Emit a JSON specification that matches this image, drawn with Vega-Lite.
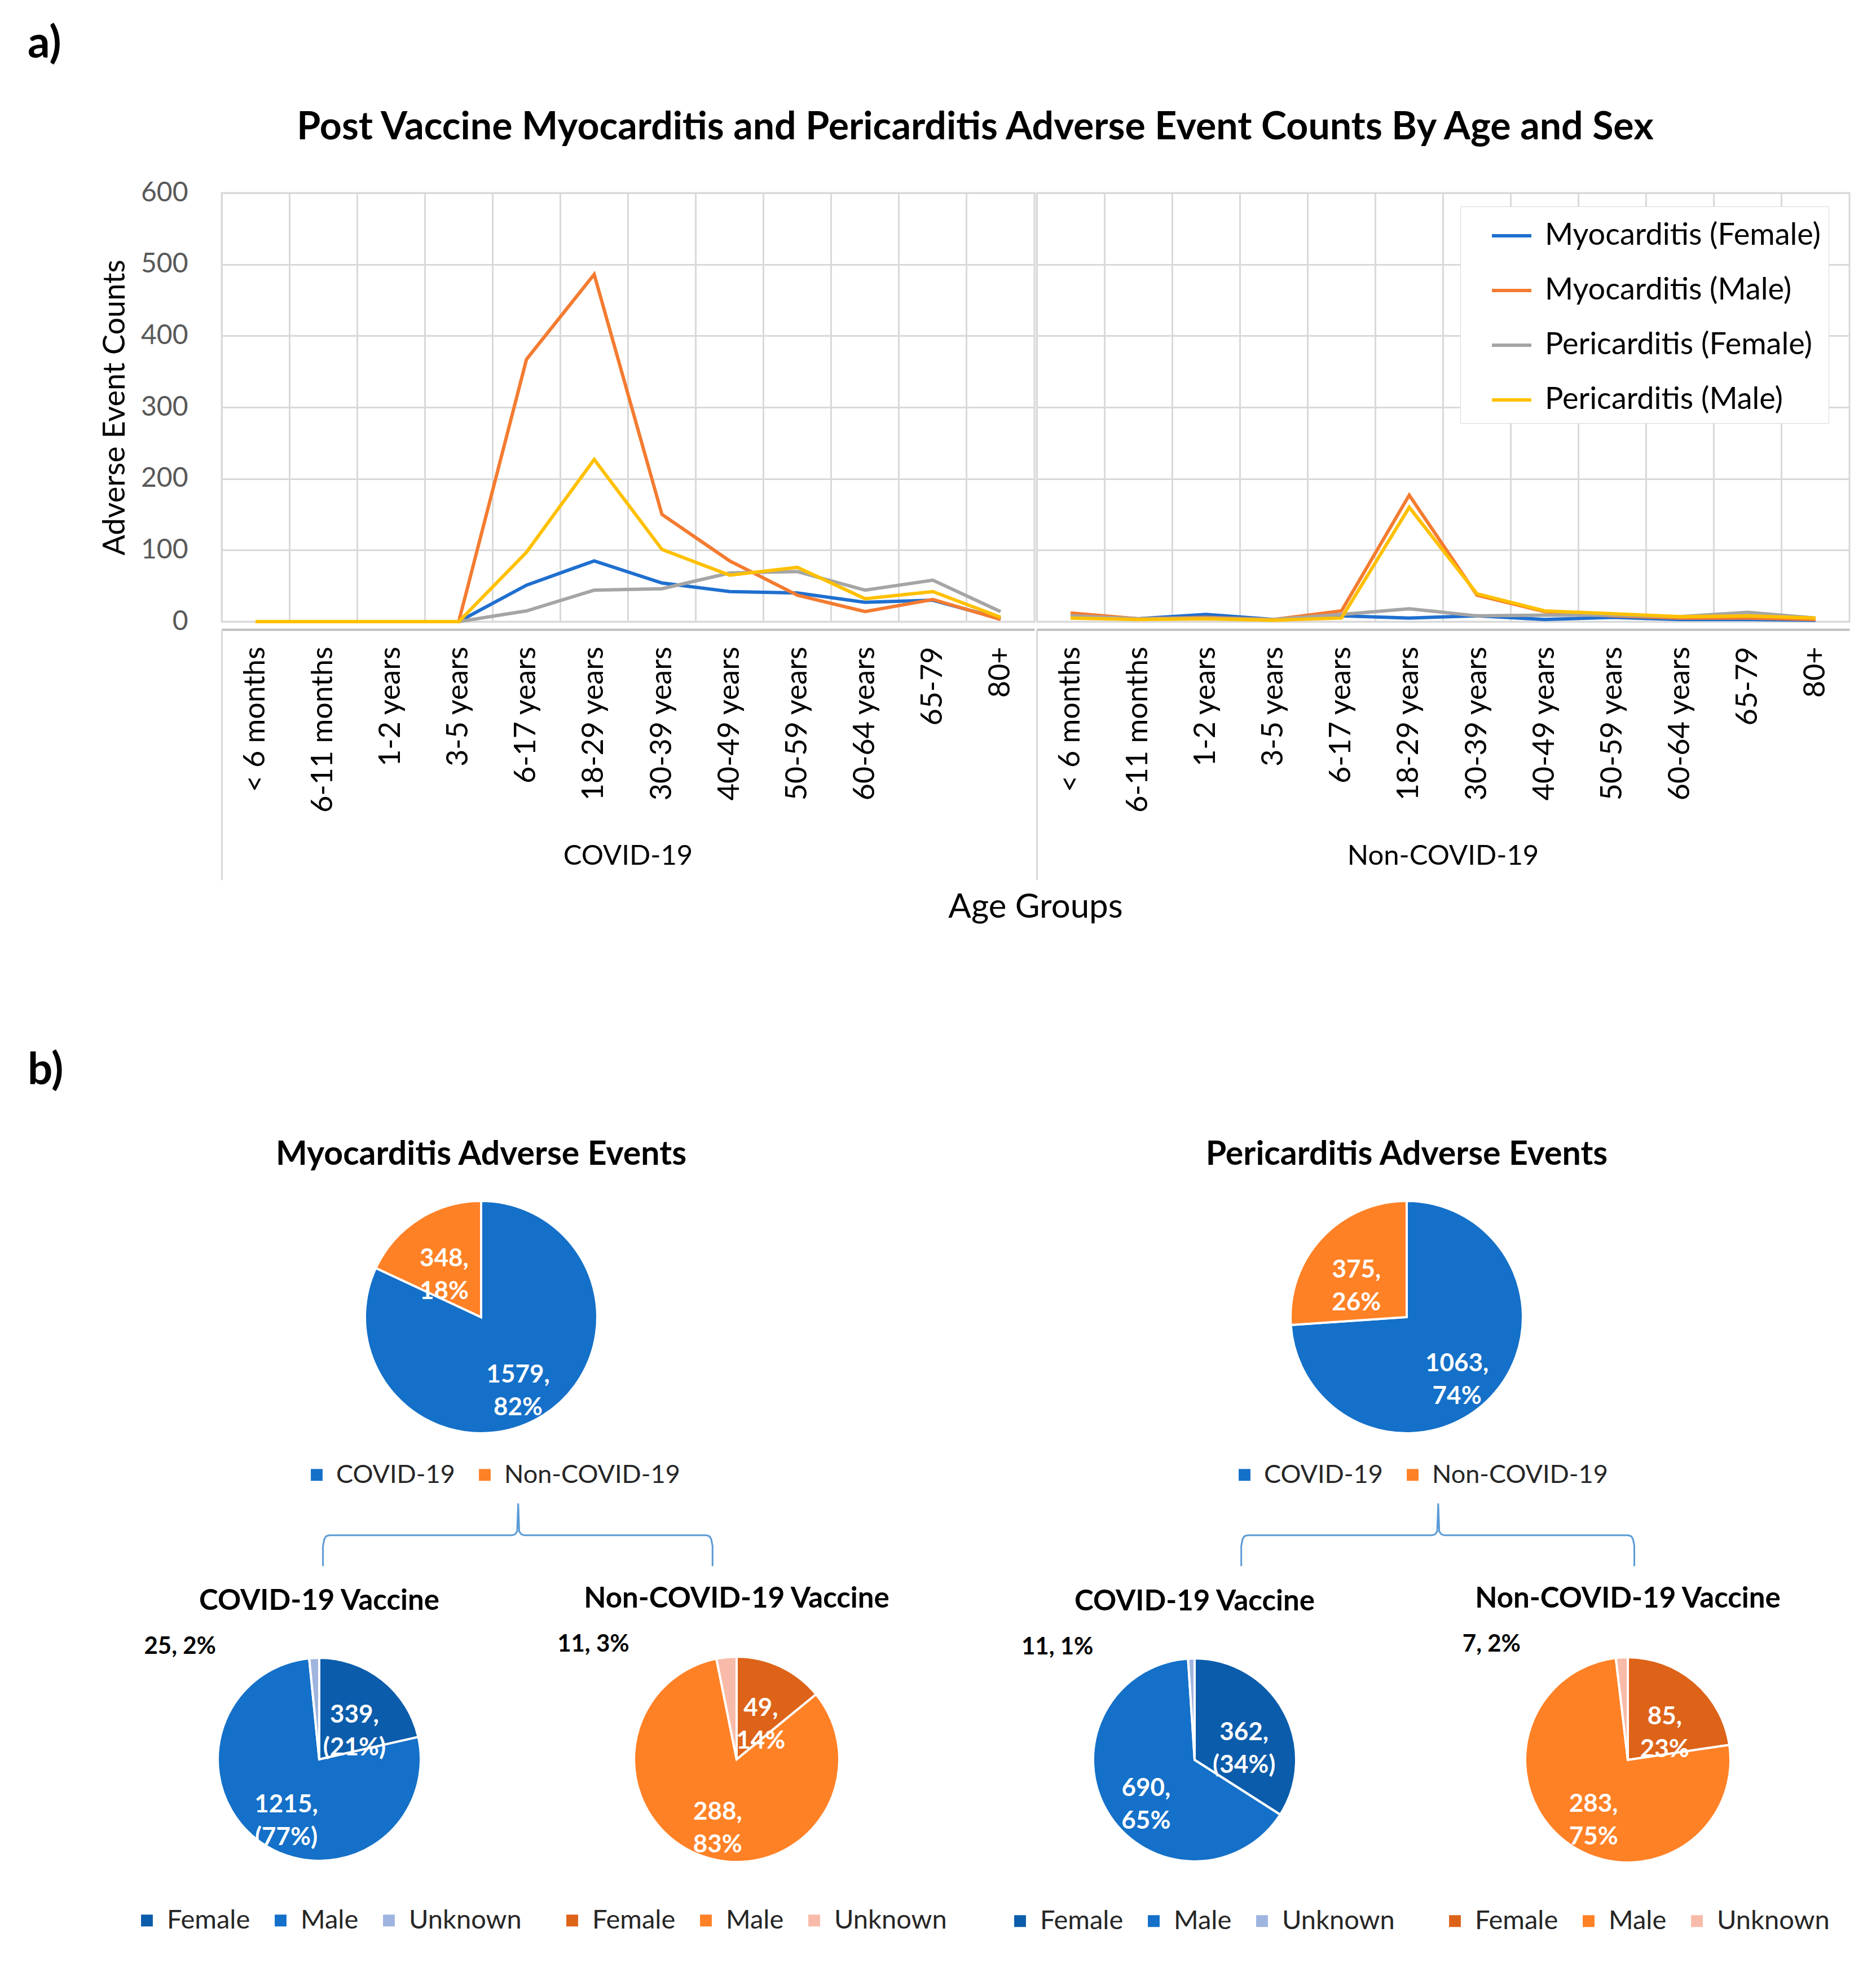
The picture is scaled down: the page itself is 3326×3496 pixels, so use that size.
{
"$schema": "https://vega.github.io/schema/vega-lite/v6.json",
"padding": {"left": 49, "top": 40, "right": 10, "bottom": 10},
"background": "white",
"config": {"font": "Lato", "view": {"stroke": null}, "title": {"color": "black"}},
"datasets": {
"lines": [
{"vaccine":"COVID-19","age":"< 6 months","series":"Myocarditis (Female)","count":0},
{"vaccine":"COVID-19","age":"6-11 months","series":"Myocarditis (Female)","count":0},
{"vaccine":"COVID-19","age":"1-2 years","series":"Myocarditis (Female)","count":0},
{"vaccine":"COVID-19","age":"3-5 years","series":"Myocarditis (Female)","count":0},
{"vaccine":"COVID-19","age":"6-17 years","series":"Myocarditis (Female)","count":51},
{"vaccine":"COVID-19","age":"18-29 years","series":"Myocarditis (Female)","count":85},
{"vaccine":"COVID-19","age":"30-39 years","series":"Myocarditis (Female)","count":54},
{"vaccine":"COVID-19","age":"40-49 years","series":"Myocarditis (Female)","count":42},
{"vaccine":"COVID-19","age":"50-59 years","series":"Myocarditis (Female)","count":40},
{"vaccine":"COVID-19","age":"60-64 years","series":"Myocarditis (Female)","count":27},
{"vaccine":"COVID-19","age":"65-79","series":"Myocarditis (Female)","count":30},
{"vaccine":"COVID-19","age":"80+","series":"Myocarditis (Female)","count":4},
{"vaccine":"COVID-19","age":"< 6 months","series":"Myocarditis (Male)","count":0},
{"vaccine":"COVID-19","age":"6-11 months","series":"Myocarditis (Male)","count":0},
{"vaccine":"COVID-19","age":"1-2 years","series":"Myocarditis (Male)","count":0},
{"vaccine":"COVID-19","age":"3-5 years","series":"Myocarditis (Male)","count":0},
{"vaccine":"COVID-19","age":"6-17 years","series":"Myocarditis (Male)","count":367},
{"vaccine":"COVID-19","age":"18-29 years","series":"Myocarditis (Male)","count":486},
{"vaccine":"COVID-19","age":"30-39 years","series":"Myocarditis (Male)","count":150},
{"vaccine":"COVID-19","age":"40-49 years","series":"Myocarditis (Male)","count":85},
{"vaccine":"COVID-19","age":"50-59 years","series":"Myocarditis (Male)","count":37},
{"vaccine":"COVID-19","age":"60-64 years","series":"Myocarditis (Male)","count":14},
{"vaccine":"COVID-19","age":"65-79","series":"Myocarditis (Male)","count":31},
{"vaccine":"COVID-19","age":"80+","series":"Myocarditis (Male)","count":3},
{"vaccine":"COVID-19","age":"< 6 months","series":"Pericarditis (Female)","count":0},
{"vaccine":"COVID-19","age":"6-11 months","series":"Pericarditis (Female)","count":0},
{"vaccine":"COVID-19","age":"1-2 years","series":"Pericarditis (Female)","count":0},
{"vaccine":"COVID-19","age":"3-5 years","series":"Pericarditis (Female)","count":0},
{"vaccine":"COVID-19","age":"6-17 years","series":"Pericarditis (Female)","count":15},
{"vaccine":"COVID-19","age":"18-29 years","series":"Pericarditis (Female)","count":44},
{"vaccine":"COVID-19","age":"30-39 years","series":"Pericarditis (Female)","count":46},
{"vaccine":"COVID-19","age":"40-49 years","series":"Pericarditis (Female)","count":68},
{"vaccine":"COVID-19","age":"50-59 years","series":"Pericarditis (Female)","count":70},
{"vaccine":"COVID-19","age":"60-64 years","series":"Pericarditis (Female)","count":44},
{"vaccine":"COVID-19","age":"65-79","series":"Pericarditis (Female)","count":58},
{"vaccine":"COVID-19","age":"80+","series":"Pericarditis (Female)","count":14},
{"vaccine":"COVID-19","age":"< 6 months","series":"Pericarditis (Male)","count":0},
{"vaccine":"COVID-19","age":"6-11 months","series":"Pericarditis (Male)","count":0},
{"vaccine":"COVID-19","age":"1-2 years","series":"Pericarditis (Male)","count":0},
{"vaccine":"COVID-19","age":"3-5 years","series":"Pericarditis (Male)","count":0},
{"vaccine":"COVID-19","age":"6-17 years","series":"Pericarditis (Male)","count":97},
{"vaccine":"COVID-19","age":"18-29 years","series":"Pericarditis (Male)","count":227},
{"vaccine":"COVID-19","age":"30-39 years","series":"Pericarditis (Male)","count":101},
{"vaccine":"COVID-19","age":"40-49 years","series":"Pericarditis (Male)","count":65},
{"vaccine":"COVID-19","age":"50-59 years","series":"Pericarditis (Male)","count":76},
{"vaccine":"COVID-19","age":"60-64 years","series":"Pericarditis (Male)","count":32},
{"vaccine":"COVID-19","age":"65-79","series":"Pericarditis (Male)","count":42},
{"vaccine":"COVID-19","age":"80+","series":"Pericarditis (Male)","count":6},
{"vaccine":"Non-COVID-19","age":"< 6 months","series":"Myocarditis (Female)","count":8},
{"vaccine":"Non-COVID-19","age":"6-11 months","series":"Myocarditis (Female)","count":4},
{"vaccine":"Non-COVID-19","age":"1-2 years","series":"Myocarditis (Female)","count":10},
{"vaccine":"Non-COVID-19","age":"3-5 years","series":"Myocarditis (Female)","count":3},
{"vaccine":"Non-COVID-19","age":"6-17 years","series":"Myocarditis (Female)","count":8},
{"vaccine":"Non-COVID-19","age":"18-29 years","series":"Myocarditis (Female)","count":5},
{"vaccine":"Non-COVID-19","age":"30-39 years","series":"Myocarditis (Female)","count":8},
{"vaccine":"Non-COVID-19","age":"40-49 years","series":"Myocarditis (Female)","count":3},
{"vaccine":"Non-COVID-19","age":"50-59 years","series":"Myocarditis (Female)","count":6},
{"vaccine":"Non-COVID-19","age":"60-64 years","series":"Myocarditis (Female)","count":3},
{"vaccine":"Non-COVID-19","age":"65-79","series":"Myocarditis (Female)","count":3},
{"vaccine":"Non-COVID-19","age":"80+","series":"Myocarditis (Female)","count":2},
{"vaccine":"Non-COVID-19","age":"< 6 months","series":"Myocarditis (Male)","count":12},
{"vaccine":"Non-COVID-19","age":"6-11 months","series":"Myocarditis (Male)","count":4},
{"vaccine":"Non-COVID-19","age":"1-2 years","series":"Myocarditis (Male)","count":6},
{"vaccine":"Non-COVID-19","age":"3-5 years","series":"Myocarditis (Male)","count":3},
{"vaccine":"Non-COVID-19","age":"6-17 years","series":"Myocarditis (Male)","count":15},
{"vaccine":"Non-COVID-19","age":"18-29 years","series":"Myocarditis (Male)","count":177},
{"vaccine":"Non-COVID-19","age":"30-39 years","series":"Myocarditis (Male)","count":37},
{"vaccine":"Non-COVID-19","age":"40-49 years","series":"Myocarditis (Male)","count":14},
{"vaccine":"Non-COVID-19","age":"50-59 years","series":"Myocarditis (Male)","count":8},
{"vaccine":"Non-COVID-19","age":"60-64 years","series":"Myocarditis (Male)","count":5},
{"vaccine":"Non-COVID-19","age":"65-79","series":"Myocarditis (Male)","count":5},
{"vaccine":"Non-COVID-19","age":"80+","series":"Myocarditis (Male)","count":3},
{"vaccine":"Non-COVID-19","age":"< 6 months","series":"Pericarditis (Female)","count":8},
{"vaccine":"Non-COVID-19","age":"6-11 months","series":"Pericarditis (Female)","count":4},
{"vaccine":"Non-COVID-19","age":"1-2 years","series":"Pericarditis (Female)","count":5},
{"vaccine":"Non-COVID-19","age":"3-5 years","series":"Pericarditis (Female)","count":3},
{"vaccine":"Non-COVID-19","age":"6-17 years","series":"Pericarditis (Female)","count":10},
{"vaccine":"Non-COVID-19","age":"18-29 years","series":"Pericarditis (Female)","count":18},
{"vaccine":"Non-COVID-19","age":"30-39 years","series":"Pericarditis (Female)","count":8},
{"vaccine":"Non-COVID-19","age":"40-49 years","series":"Pericarditis (Female)","count":9},
{"vaccine":"Non-COVID-19","age":"50-59 years","series":"Pericarditis (Female)","count":9},
{"vaccine":"Non-COVID-19","age":"60-64 years","series":"Pericarditis (Female)","count":7},
{"vaccine":"Non-COVID-19","age":"65-79","series":"Pericarditis (Female)","count":13},
{"vaccine":"Non-COVID-19","age":"80+","series":"Pericarditis (Female)","count":5},
{"vaccine":"Non-COVID-19","age":"< 6 months","series":"Pericarditis (Male)","count":5},
{"vaccine":"Non-COVID-19","age":"6-11 months","series":"Pericarditis (Male)","count":3},
{"vaccine":"Non-COVID-19","age":"1-2 years","series":"Pericarditis (Male)","count":4},
{"vaccine":"Non-COVID-19","age":"3-5 years","series":"Pericarditis (Male)","count":2},
{"vaccine":"Non-COVID-19","age":"6-17 years","series":"Pericarditis (Male)","count":5},
{"vaccine":"Non-COVID-19","age":"18-29 years","series":"Pericarditis (Male)","count":160},
{"vaccine":"Non-COVID-19","age":"30-39 years","series":"Pericarditis (Male)","count":39},
{"vaccine":"Non-COVID-19","age":"40-49 years","series":"Pericarditis (Male)","count":15},
{"vaccine":"Non-COVID-19","age":"50-59 years","series":"Pericarditis (Male)","count":11},
{"vaccine":"Non-COVID-19","age":"60-64 years","series":"Pericarditis (Male)","count":7},
{"vaccine":"Non-COVID-19","age":"65-79","series":"Pericarditis (Male)","count":8},
{"vaccine":"Non-COVID-19","age":"80+","series":"Pericarditis (Male)","count":5}
],
"pies": [
{"disease":"Myocarditis","chart":"Overall","part":"COVID-19","count":1579,"label":"1579,\n82%"},
{"disease":"Myocarditis","chart":"Overall","part":"Non-COVID-19","count":348,"label":"348,\n18%"},
{"disease":"Myocarditis","chart":"COVID-19","part":"Female","count":339,"label":"339,\n(21%)"},
{"disease":"Myocarditis","chart":"COVID-19","part":"Male","count":1215,"label":"1215,\n(77%)"},
{"disease":"Myocarditis","chart":"COVID-19","part":"Unknown","count":25,"label":"25, 2%"},
{"disease":"Myocarditis","chart":"Non-COVID-19","part":"Female","count":49,"label":"49,\n14%"},
{"disease":"Myocarditis","chart":"Non-COVID-19","part":"Male","count":288,"label":"288,\n83%"},
{"disease":"Myocarditis","chart":"Non-COVID-19","part":"Unknown","count":11,"label":"11, 3%"},
{"disease":"Pericarditis","chart":"Overall","part":"COVID-19","count":1063,"label":"1063,\n74%"},
{"disease":"Pericarditis","chart":"Overall","part":"Non-COVID-19","count":375,"label":"375,\n26%"},
{"disease":"Pericarditis","chart":"COVID-19","part":"Female","count":362,"label":"362,\n(34%)"},
{"disease":"Pericarditis","chart":"COVID-19","part":"Male","count":690,"label":"690,\n65%"},
{"disease":"Pericarditis","chart":"COVID-19","part":"Unknown","count":11,"label":"11, 1%"},
{"disease":"Pericarditis","chart":"Non-COVID-19","part":"Female","count":85,"label":"85,\n23%"},
{"disease":"Pericarditis","chart":"Non-COVID-19","part":"Male","count":283,"label":"283,\n75%"},
{"disease":"Pericarditis","chart":"Non-COVID-19","part":"Unknown","count":7,"label":"7, 2%"}
],
"braces": [
{"side":"L","seq":1,"bx":0.262,"by":0.81},{"side":"L","seq":2,"bx":0.262,"by":0.60},{"side":"L","seq":3,"bx":0.2635,"by":0.53},{"side":"L","seq":4,"bx":0.2655,"by":0.50},{"side":"L","seq":5,"bx":0.269,"by":0.49},{"side":"L","seq":6,"bx":0.478,"by":0.49},{"side":"L","seq":7,"bx":0.4815,"by":0.48},{"side":"L","seq":8,"bx":0.4838,"by":0.45},{"side":"L","seq":9,"bx":0.485,"by":0.16},{"side":"L","seq":10,"bx":0.4862,"by":0.45},{"side":"L","seq":11,"bx":0.4885,"by":0.48},{"side":"L","seq":12,"bx":0.492,"by":0.49},{"side":"L","seq":13,"bx":0.700,"by":0.49},{"side":"L","seq":14,"bx":0.7035,"by":0.50},{"side":"L","seq":15,"bx":0.7055,"by":0.53},{"side":"L","seq":16,"bx":0.707,"by":0.60},{"side":"L","seq":17,"bx":0.707,"by":0.81},
{"side":"R","seq":1,"bx":0.311,"by":0.81},{"side":"R","seq":2,"bx":0.311,"by":0.60},{"side":"R","seq":3,"bx":0.3125,"by":0.53},{"side":"R","seq":4,"bx":0.3145,"by":0.50},{"side":"R","seq":5,"bx":0.318,"by":0.49},{"side":"R","seq":6,"bx":0.529,"by":0.49},{"side":"R","seq":7,"bx":0.5325,"by":0.48},{"side":"R","seq":8,"bx":0.5348,"by":0.45},{"side":"R","seq":9,"bx":0.536,"by":0.16},{"side":"R","seq":10,"bx":0.5372,"by":0.45},{"side":"R","seq":11,"bx":0.5395,"by":0.48},{"side":"R","seq":12,"bx":0.543,"by":0.49},{"side":"R","seq":13,"bx":0.753,"by":0.49},{"side":"R","seq":14,"bx":0.7565,"by":0.50},{"side":"R","seq":15,"bx":0.7585,"by":0.53},{"side":"R","seq":16,"bx":0.760,"by":0.60},{"side":"R","seq":17,"bx":0.760,"by":0.81}
]
},
"spacing": 221,
"resolve": {"scale": {"color": "independent", "theta": "independent"}, "legend": {"color": "independent"}},
"vconcat": [
{
"title": {"text": "a)", "anchor": "start", "fontSize": 78, "fontWeight": "bold", "offset": 75},
"spacing": 0,
"hconcat": [
{"width": 128, "height": 10, "data": {"values": [{}]}, "mark": {"type": "text", "text": ""}},
{
"data": {"name": "lines"},
"title": {"text": "Post Vaccine Myocarditis and Pericarditis Adverse Event Counts By Age and Sex", "fontSize": 68, "fontWeight": "bold", "offset": 57, "anchor": "middle"},
"spacing": 0,
"facet": {"column": {"field": "vaccine", "type": "nominal", "sort": ["COVID-19", "Non-COVID-19"],
  "header": {"labelOrient": "bottom", "labelFontSize": 49, "labelColor": "black", "labelPadding": -68,
    "title": "Age Groups", "titleOrient": "bottom", "titleFontSize": 60, "titleFontWeight": "normal", "titleColor": "black", "titlePadding": 8}}},
"spec": {
  "width": 1441, "height": 760,
  "view": {"stroke": "#d9d9d9", "strokeWidth": 3},
  "encoding": {
    "y": {"field": "count", "type": "quantitative", "scale": {"domain": [0, 600]},
      "axis": {"values": [0, 100, 200, 300, 400, 500, 600], "grid": true, "gridColor": "#d9d9d9", "gridWidth": 3, "domain": false, "ticks": false,
        "labelFontSize": 48, "labelColor": "#595959", "labelPadding": 58,
        "title": "Adverse Event Counts", "titleFontSize": 54, "titleFontWeight": "normal", "titleColor": "black", "titlePadding": 18}}
  },
  "layer": [
    {"mark": {"type": "line", "strokeWidth": 6},
     "encoding": {
       "x": {"field": "age", "type": "nominal", "bandPosition": 0.5,
         "sort": ["< 6 months","6-11 months","1-2 years","3-5 years","6-17 years","18-29 years","30-39 years","40-49 years","50-59 years","60-64 years","65-79","80+"],
         "scale": {"type": "band", "paddingInner": 0, "paddingOuter": 0},
         "axis": {"orient": "bottom", "bandPosition": 0, "grid": true, "gridColor": "#d9d9d9", "gridWidth": 3, "ticks": false, "domain": true, "domainColor": "#bfbfbf", "domainWidth": 4,
           "labelAngle": -90, "labelFontSize": 52, "labelColor": "black", "labelPadding": 30, "labelLimit": 0, "title": null}},
       "color": {"field": "series", "type": "nominal",
         "scale": {"domain": ["Myocarditis (Female)", "Myocarditis (Male)", "Pericarditis (Female)", "Pericarditis (Male)"], "range": ["#1F6FCF", "#F47B30", "#A5A5A5", "#FFC000"]},
         "legend": {"title": null, "orient": "none", "legendX": 2540, "legendY": 24, "direction": "vertical", "symbolType": "stroke", "symbolSize": 4900, "symbolStrokeWidth": 6, "symbolOffset": 39,
           "labelFontSize": 54, "labelColor": "black", "rowPadding": 32, "labelOffset": 21, "padding": 14, "strokeColor": "#d9d9d9", "fillColor": "white", "labelLimit": 0}}
     }},
    {"mark": {"type": "point", "opacity": 0},
     "encoding": {
       "x": {"field": "age", "type": "nominal", "bandPosition": 0.5,
         "sort": ["< 6 months","6-11 months","1-2 years","3-5 years","6-17 years","18-29 years","30-39 years","40-49 years","50-59 years","60-64 years","65-79","80+"],
         "scale": {"type": "band", "paddingInner": 0, "paddingOuter": 0},
         "axis": {"orient": "bottom", "bandPosition": 0, "values": ["< 6 months"], "grid": false, "labels": false, "domain": false, "ticks": true, "tickSize": 444, "tickColor": "#d9d9d9", "tickWidth": 3, "title": null}}
     }}
  ],
  "resolve": {"axis": {"x": "independent"}}
}
}
]
},
{
"title": {"text": "b)", "anchor": "start", "fontSize": 78, "fontWeight": "bold", "offset": 80},
"spacing": 0,
"resolve": {"scale": {"color": "independent", "theta": "independent"}, "legend": {"color": "independent"}},
"hconcat": [
{"width": 117, "height": 10, "data": {"values": [{}]}, "mark": {"type": "text", "text": ""}},
{"spacing": 0,
 "resolve": {"scale": {"color": "independent", "theta": "independent"}, "legend": {"color": "independent"}},
 "vconcat": [
  {"data": {"name": "pies"}, "transform": [{"filter": "datum.disease === 'Myocarditis' && datum.chart === 'Overall'"}],
   "title": {"text": "Myocarditis Adverse Events", "fontSize": 59, "fontWeight": "bold", "offset": 43},
   "width": 1374, "height": 430,
   "encoding": {"theta": {"field": "count", "type": "quantitative", "stack": true}, "order": {"field": "part", "type": "nominal", "sort": "ascending"}},
   "layer": [
     {"mark": {"type": "arc", "outerRadius": 206, "stroke": "white", "strokeWidth": 4},
      "encoding": {"color": {"field": "part", "type": "nominal", "scale": {"domain": ["COVID-19", "Non-COVID-19"], "range": ["#1470C8", "#FF8126"]},
        "legend": {"title": null, "orient": "none", "legendX": 373, "legendY": 472, "direction": "horizontal", "symbolType": "square", "symbolSize": 500, "labelFontSize": 45, "labelColor": "#262626", "columnPadding": 30, "labelOffset": 12, "padding": 0, "labelLimit": 0}}}},
     {"mark": {"type": "text", "radius": 122, "fill": "white", "fontSize": 44, "fontWeight": "bold", "lineBreak": "\n", "lineHeight": 58},
      "encoding": {"detail": {"field": "part", "type": "nominal"}, "text": {"field": "label", "type": "nominal"}}}
   ]},
  {"data": {"name": "braces"}, "transform": [{"filter": "datum.side === 'L'"}], "width": 1552, "height": 171,
   "mark": {"type": "line", "stroke": "#5B9BD5", "strokeWidth": 3},
   "encoding": {"x": {"field": "bx", "type": "quantitative", "scale": {"domain": [0, 1]}, "axis": null},
     "y": {"field": "by", "type": "quantitative", "scale": {"domain": [0, 1], "reverse": true}, "axis": null},
     "order": {"field": "seq", "type": "quantitative"}}},
  {"spacing": 0,
   "resolve": {"scale": {"color": "independent", "theta": "independent"}, "legend": {"color": "independent"}},
   "hconcat": [
    {"data": {"name": "pies"}, "transform": [{"filter": "datum.disease === 'Myocarditis' && datum.chart === 'COVID-19'"}],
     "title": {"text": "COVID-19 Vaccine", "fontSize": 51, "fontWeight": "bold", "offset": 33},
     "width": 800, "height": 400,
     "encoding": {"theta": {"field": "count", "type": "quantitative", "stack": true}, "order": {"field": "part", "type": "nominal", "sort": "ascending"}},
     "layer": [
       {"mark": {"type": "arc", "outerRadius": 180, "stroke": "white", "strokeWidth": 4},
        "encoding": {"color": {"field": "part", "type": "nominal", "scale": {"domain": ["Female", "Male", "Unknown"], "range": ["#0B5CAB", "#1470C8", "#9FB5DF"]},
          "legend": {"title": null, "orient": "none", "legendX": 71, "legendY": 462, "direction": "horizontal", "symbolType": "square", "symbolSize": 500, "labelFontSize": 47, "labelColor": "#262626", "columnPadding": 30, "labelOffset": 12, "padding": 0, "labelLimit": 0}}}},
       {"mark": {"type": "text", "radius": 100, "fill": "white", "fontSize": 44, "fontWeight": "bold", "lineBreak": "\n", "lineHeight": 58},
        "encoding": {"detail": {"field": "part", "type": "nominal"}, "text": {"field": "label", "type": "nominal", "condition": {"test": "datum.part === 'Unknown'", "value": ""}}}},
       {"mark": {"type": "text", "radius": 200, "align": "right", "dx": -173, "fill": "black", "fontSize": 42, "fontWeight": "bold"},
        "encoding": {"detail": {"field": "part", "type": "nominal"}, "text": {"field": "label", "type": "nominal", "condition": {"test": "datum.part !== 'Unknown'", "value": ""}}}}
     ]},
    {"data": {"name": "pies"}, "transform": [{"filter": "datum.disease === 'Myocarditis' && datum.chart === 'Non-COVID-19'"}],
     "title": {"text": "Non-COVID-19 Vaccine", "fontSize": 51, "fontWeight": "bold", "offset": 33},
     "width": 680, "height": 400,
     "encoding": {"theta": {"field": "count", "type": "quantitative", "stack": true}, "order": {"field": "part", "type": "nominal", "sort": "ascending"}},
     "layer": [
       {"mark": {"type": "arc", "outerRadius": 182, "stroke": "white", "strokeWidth": 4},
        "encoding": {"color": {"field": "part", "type": "nominal", "scale": {"domain": ["Female", "Male", "Unknown"], "range": ["#DD6319", "#FF8126", "#F9BBA9"]},
          "legend": {"title": null, "orient": "none", "legendX": 25, "legendY": 462, "direction": "horizontal", "symbolType": "square", "symbolSize": 500, "labelFontSize": 47, "labelColor": "#262626", "columnPadding": 30, "labelOffset": 12, "padding": 0, "labelLimit": 0}}}},
       {"mark": {"type": "text", "radius": 100, "fill": "white", "fontSize": 44, "fontWeight": "bold", "lineBreak": "\n", "lineHeight": 58},
        "encoding": {"detail": {"field": "part", "type": "nominal"}, "text": {"field": "label", "type": "nominal", "condition": {"test": "datum.part === 'Unknown'", "value": ""}}}},
       {"mark": {"type": "text", "radius": 205, "align": "right", "dx": -170, "fill": "black", "fontSize": 42, "fontWeight": "bold"},
        "encoding": {"detail": {"field": "part", "type": "nominal"}, "text": {"field": "label", "type": "nominal", "condition": {"test": "datum.part !== 'Unknown'", "value": ""}}}}
     ]}
  ]}
]},
{"spacing": 0,
 "resolve": {"scale": {"color": "independent", "theta": "independent"}, "legend": {"color": "independent"}},
 "vconcat": [
  {"data": {"name": "pies"}, "transform": [{"filter": "datum.disease === 'Pericarditis' && datum.chart === 'Overall'"}],
   "title": {"text": "Pericarditis Adverse Events", "fontSize": 59, "fontWeight": "bold", "offset": 43},
   "width": 1552, "height": 430,
   "encoding": {"theta": {"field": "count", "type": "quantitative", "stack": true}, "order": {"field": "part", "type": "nominal", "sort": "ascending"}},
   "layer": [
     {"mark": {"type": "arc", "outerRadius": 206, "stroke": "white", "strokeWidth": 4},
      "encoding": {"color": {"field": "part", "type": "nominal", "scale": {"domain": ["COVID-19", "Non-COVID-19"], "range": ["#1470C8", "#FF8126"]},
        "legend": {"title": null, "orient": "none", "legendX": 466, "legendY": 472, "direction": "horizontal", "symbolType": "square", "symbolSize": 500, "labelFontSize": 45, "labelColor": "#262626", "columnPadding": 30, "labelOffset": 12, "padding": 0, "labelLimit": 0}}}},
     {"mark": {"type": "text", "radius": 122, "fill": "white", "fontSize": 44, "fontWeight": "bold", "lineBreak": "\n", "lineHeight": 58},
      "encoding": {"detail": {"field": "part", "type": "nominal"}, "text": {"field": "label", "type": "nominal"}}}
   ]},
  {"data": {"name": "braces"}, "transform": [{"filter": "datum.side === 'R'"}], "width": 1552, "height": 171,
   "mark": {"type": "line", "stroke": "#5B9BD5", "strokeWidth": 3},
   "encoding": {"x": {"field": "bx", "type": "quantitative", "scale": {"domain": [0, 1]}, "axis": null},
     "y": {"field": "by", "type": "quantitative", "scale": {"domain": [0, 1], "reverse": true}, "axis": null},
     "order": {"field": "seq", "type": "quantitative"}}},
  {"spacing": 0,
   "resolve": {"scale": {"color": "independent", "theta": "independent"}, "legend": {"color": "independent"}},
   "hconcat": [
    {"data": {"name": "pies"}, "transform": [{"filter": "datum.disease === 'Pericarditis' && datum.chart === 'COVID-19'"}],
     "title": {"text": "COVID-19 Vaccine", "fontSize": 51, "fontWeight": "bold", "offset": 33},
     "width": 800, "height": 400,
     "encoding": {"theta": {"field": "count", "type": "quantitative", "stack": true}, "order": {"field": "part", "type": "nominal", "sort": "ascending"}},
     "layer": [
       {"mark": {"type": "arc", "outerRadius": 180, "stroke": "white", "strokeWidth": 4},
        "encoding": {"color": {"field": "part", "type": "nominal", "scale": {"domain": ["Female", "Male", "Unknown"], "range": ["#0B5CAB", "#1470C8", "#9FB5DF"]},
          "legend": {"title": null, "orient": "none", "legendX": 67, "legendY": 462, "direction": "horizontal", "symbolType": "square", "symbolSize": 500, "labelFontSize": 47, "labelColor": "#262626", "columnPadding": 30, "labelOffset": 12, "padding": 0, "labelLimit": 0}}}},
       {"mark": {"type": "text", "radius": 100, "fill": "white", "fontSize": 44, "fontWeight": "bold", "lineBreak": "\n", "lineHeight": 58},
        "encoding": {"detail": {"field": "part", "type": "nominal"}, "text": {"field": "label", "type": "nominal", "condition": {"test": "datum.part === 'Unknown'", "value": ""}}}},
       {"mark": {"type": "text", "radius": 200, "align": "right", "dx": -173, "fill": "black", "fontSize": 42, "fontWeight": "bold"},
        "encoding": {"detail": {"field": "part", "type": "nominal"}, "text": {"field": "label", "type": "nominal", "condition": {"test": "datum.part !== 'Unknown'", "value": ""}}}}
     ]},
    {"data": {"name": "pies"}, "transform": [{"filter": "datum.disease === 'Pericarditis' && datum.chart === 'Non-COVID-19'"}],
     "title": {"text": "Non-COVID-19 Vaccine", "fontSize": 51, "fontWeight": "bold", "offset": 33},
     "width": 736, "height": 400,
     "encoding": {"theta": {"field": "count", "type": "quantitative", "stack": true}, "order": {"field": "part", "type": "nominal", "sort": "ascending"}},
     "layer": [
       {"mark": {"type": "arc", "outerRadius": 182, "stroke": "white", "strokeWidth": 4},
        "encoding": {"color": {"field": "part", "type": "nominal", "scale": {"domain": ["Female", "Male", "Unknown"], "range": ["#DD6319", "#FF8126", "#F9BBA9"]},
          "legend": {"title": null, "orient": "none", "legendX": 38, "legendY": 462, "direction": "horizontal", "symbolType": "square", "symbolSize": 500, "labelFontSize": 47, "labelColor": "#262626", "columnPadding": 30, "labelOffset": 12, "padding": 0, "labelLimit": 0}}}},
       {"mark": {"type": "text", "radius": 100, "fill": "white", "fontSize": 44, "fontWeight": "bold", "lineBreak": "\n", "lineHeight": 58},
        "encoding": {"detail": {"field": "part", "type": "nominal"}, "text": {"field": "label", "type": "nominal", "condition": {"test": "datum.part === 'Unknown'", "value": ""}}}},
       {"mark": {"type": "text", "radius": 205, "align": "right", "dx": -178, "fill": "black", "fontSize": 42, "fontWeight": "bold"},
        "encoding": {"detail": {"field": "part", "type": "nominal"}, "text": {"field": "label", "type": "nominal", "condition": {"test": "datum.part !== 'Unknown'", "value": ""}}}}
     ]}
  ]}
]}
]
}
]
}
